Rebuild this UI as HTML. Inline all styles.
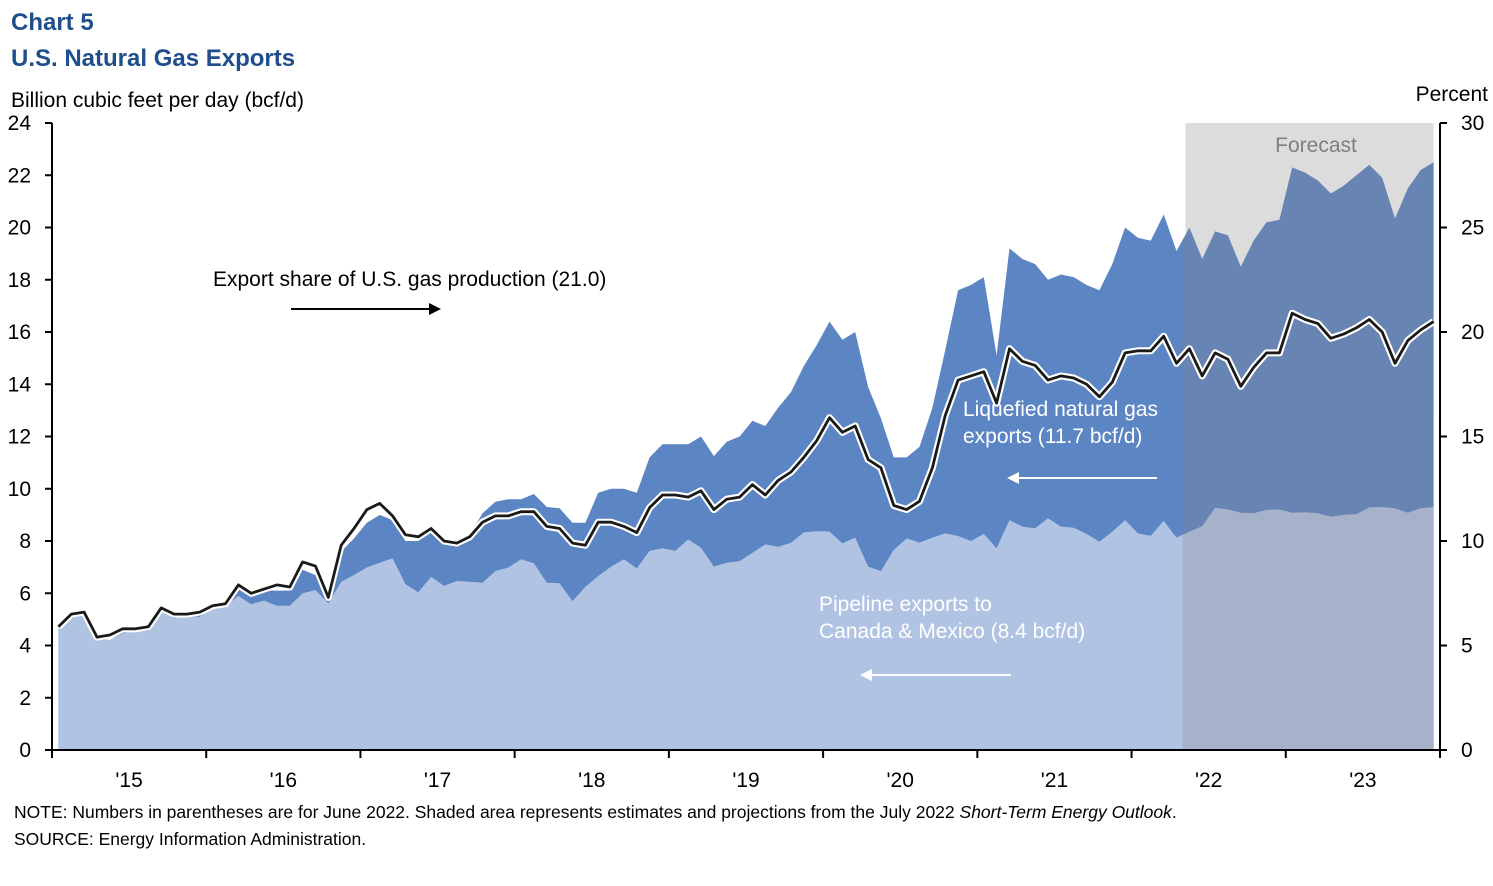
<!DOCTYPE html>
<html><head><meta charset="utf-8"><style>
body{margin:0;background:#fff;width:1493px;height:881px;overflow:hidden;font-family:"Liberation Sans",sans-serif}
svg text{font-family:"Liberation Sans",sans-serif}
</style></head><body>
<svg id="chart" width="1493" height="881" xmlns="http://www.w3.org/2000/svg">
<text x="11" y="30" font-size="24" font-weight="bold" fill="#1f4e8c">Chart 5</text>
<text x="11" y="66" font-size="24" font-weight="bold" fill="#1f4e8c">U.S. Natural Gas Exports</text>
<text x="11" y="107" font-size="21" fill="#000">Billion cubic feet per day (bcf/d)</text>
<text x="1488" y="101" font-size="21" fill="#000" text-anchor="end">Percent</text>
<g id="plot"></g>
<g id="axes"></g>
<text x="213" y="286" font-size="21" fill="#000">Export share of U.S. gas production (21.0)</text>
<g><line x1="291" y1="309" x2="432" y2="309" stroke="#000" stroke-width="2"/><polygon points="441,309 429,303 429,315" fill="#000"/></g>
<text font-size="21" fill="#fff"><tspan x="963" y="416">Liquefied natural gas</tspan><tspan x="963" y="443">exports (11.7 bcf/d)</tspan></text>
<g><line x1="1157" y1="478" x2="1016" y2="478" stroke="#fff" stroke-width="2"/><polygon points="1007,478 1019,472 1019,484" fill="#fff"/></g>
<text font-size="21" fill="#fff"><tspan x="819" y="611">Pipeline exports to</tspan><tspan x="819" y="638">Canada &amp; Mexico  (8.4 bcf/d)</tspan></text>
<g><line x1="1011" y1="675" x2="869" y2="675" stroke="#fff" stroke-width="2"/><polygon points="860,675 872,669 872,681" fill="#fff"/></g>
<text x="14" y="818" font-size="17.5" fill="#000">NOTE: Numbers in parentheses are for June 2022. Shaded area represents estimates and projections from the July 2022 <tspan font-style="italic">Short-Term Energy Outlook</tspan>.</text>
<text x="14" y="845" font-size="17.5" fill="#000">SOURCE: Energy Information Administration.</text>
</svg>
<script>
const years = ["'15","'16","'17","'18","'19","'20","'21","'22","'23"];
const leftTicks = [0,2,4,6,8,10,12,14,16,18,20,22,24];
const rightTicks = [0,5,10,15,20,25,30];
const forecastStartMonth = 88.2;
const pipeline = [4.57,5.1,5.27,4.28,4.2,4.47,4.53,4.57,5.32,5.04,5.13,5.1,5.42,5.51,5.9,5.58,5.72,5.52,5.52,6.0,6.12,5.62,6.44,6.7,6.99,7.17,7.34,6.35,6.04,6.63,6.28,6.47,6.44,6.4,6.85,6.98,7.3,7.15,6.4,6.38,5.7,6.25,6.66,7.02,7.3,6.95,7.62,7.72,7.63,8.06,7.74,7.02,7.17,7.23,7.55,7.87,7.78,7.93,8.33,8.38,8.36,7.91,8.13,7.02,6.85,7.66,8.1,7.94,8.13,8.29,8.19,8.0,8.27,7.72,8.8,8.55,8.49,8.87,8.55,8.51,8.27,7.97,8.36,8.8,8.29,8.2,8.77,8.13,8.36,8.57,9.27,9.21,9.08,9.06,9.19,9.21,9.08,9.1,9.06,8.93,9.0,9.03,9.29,9.3,9.25,9.08,9.25,9.3];
const total = [4.6,5.1,5.3,4.3,4.2,4.5,4.5,4.6,5.4,5.1,5.2,5.2,5.5,5.6,6.3,5.9,6.1,6.1,6.1,6.9,6.7,5.7,7.6,8.1,8.7,9.0,8.8,8.0,8.0,8.4,8.0,8.0,8.2,9.06,9.5,9.6,9.6,9.8,9.3,9.25,8.7,8.7,9.85,10.0,10.0,9.85,11.2,11.7,11.7,11.7,12.0,11.25,11.8,12.0,12.6,12.4,13.1,13.7,14.7,15.5,16.4,15.7,16.0,13.9,12.7,11.2,11.2,11.6,13.1,15.3,17.6,17.8,18.1,15.1,19.2,18.8,18.6,18.0,18.2,18.1,17.8,17.6,18.6,20.0,19.6,19.5,20.5,19.1,20.0,18.8,19.85,19.7,18.5,19.5,20.2,20.3,22.3,22.1,21.8,21.3,21.6,22.0,22.4,21.9,20.35,21.5,22.2,22.5];
const share = [5.9,6.5,6.6,5.4,5.5,5.8,5.8,5.9,6.8,6.5,6.5,6.6,6.9,7.0,7.9,7.5,7.7,7.9,7.8,9.0,8.8,7.3,9.8,10.6,11.5,11.8,11.2,10.3,10.2,10.6,10.0,9.9,10.2,10.9,11.2,11.2,11.4,11.4,10.7,10.6,9.9,9.8,10.9,10.9,10.7,10.4,11.6,12.2,12.2,12.1,12.4,11.5,12.0,12.1,12.7,12.2,12.9,13.3,14.0,14.8,15.9,15.2,15.5,13.9,13.5,11.7,11.5,11.9,13.5,16.0,17.7,17.9,18.1,16.6,19.2,18.6,18.4,17.7,17.9,17.8,17.5,16.9,17.6,19.0,19.1,19.1,19.8,18.5,19.2,17.9,19.0,18.7,17.4,18.3,19.0,19.0,20.9,20.6,20.4,19.7,19.9,20.2,20.6,20.0,18.5,19.6,20.1,20.5];

const NS='http://www.w3.org/2000/svg';
const X0=52, X1=1440, Y0=750, Y1=123;
const monthW=(X1-X0)/108;
const xm=i=>X0+(i+0.5)*monthW;
const yl=v=>Y0-(v/24)*(Y0-Y1);
const yr=v=>Y0-(v/30)*(Y0-Y1);
function mk(tag,attrs,parent){const e=document.createElementNS(NS,tag);for(const k in attrs)e.setAttribute(k,attrs[k]);parent.appendChild(e);return e;}
const plot=document.getElementById('plot'), axes=document.getElementById('axes');
const fx=X0+forecastStartMonth*monthW;
const defs=mk('defs',{},plot);
const c1=mk('clipPath',{id:'hist'},defs);mk('rect',{x:0,y:0,width:fx-3,height:881},c1);
const c2=mk('clipPath',{id:'fc'},defs);mk('rect',{x:fx-3,y:0,width:1493,height:881},c2);
const bg=mk('rect',{x:fx,y:Y1,width:xm(107)-fx,height:Y0-Y1,fill:'#dcdcdc'},plot);


const ft=mk('text',{x:1316,y:152,'font-size':21,fill:'#7f7f7f','text-anchor':'middle'},plot);ft.textContent='Forecast';


function areaPath(arr){let d='M'+xm(0)+','+Y0;arr.forEach((v,i)=>{d+=' L'+xm(i).toFixed(1)+','+yl(v).toFixed(1);});return d+' L'+xm(arr.length-1)+','+Y0+' Z';}
[['hist','#5b86c3','#b1c3e3'],['fc','#6784b3','#a6b2ca']].forEach(([cid,dk,lt])=>{
 const g=mk('g',{'clip-path':'url(#'+cid+')'},plot);
 const a1=mk('path',{d:areaPath(total),fill:dk},g);
 
 
 const a2=mk('path',{d:areaPath(pipeline),fill:lt},g);
 
 
});
let d='';share.forEach((v,i)=>{d+=(i?' L':'M')+xm(i).toFixed(1)+','+yr(v).toFixed(1);});
const sl=mk('path',{d:d,fill:'none',stroke:'#fff',"stroke-width":7,'stroke-linejoin':'round'},plot);


const ln=mk('path',{d:d,fill:'none',stroke:'#1a1a1a','stroke-width':2.8,'stroke-linejoin':'round'},plot);


// axes
mk('line',{x1:X0,y1:Y1,x2:X0,y2:Y0,stroke:'#000','stroke-width':2},axes);
mk('line',{x1:X1,y1:Y1,x2:X1,y2:Y0,stroke:'#000','stroke-width':2},axes);
mk('line',{x1:X0,y1:Y0,x2:X1,y2:Y0,stroke:'#000','stroke-width':2},axes);
leftTicks.forEach(v=>{mk('line',{x1:X0-7,y1:yl(v),x2:X0,y2:yl(v),stroke:'#000','stroke-width':2},axes);
 const t=mk('text',{x:31,y:yl(v)+7,'font-size':21,'text-anchor':'end'},axes);t.textContent=v;
 
 });
rightTicks.forEach(v=>{mk('line',{x1:X1,y1:yr(v),x2:X1+7,y2:yr(v),stroke:'#000','stroke-width':2},axes);
 const t=mk('text',{x:1461,y:yr(v)+7,'font-size':21},axes);t.textContent=v;
 
 });
for(let k=0;k<=years.length;k++){const x=X0+k*12*monthW;mk('line',{x1:x,y1:Y0,x2:x,y2:Y0+8,stroke:'#000','stroke-width':2},axes);}
years.forEach((y,k)=>{const t=mk('text',{x:X0+(k+0.5)*12*monthW,y:787,'font-size':21,'text-anchor':'middle'},axes);t.textContent=y;
 
 });
</script>
</body></html>
